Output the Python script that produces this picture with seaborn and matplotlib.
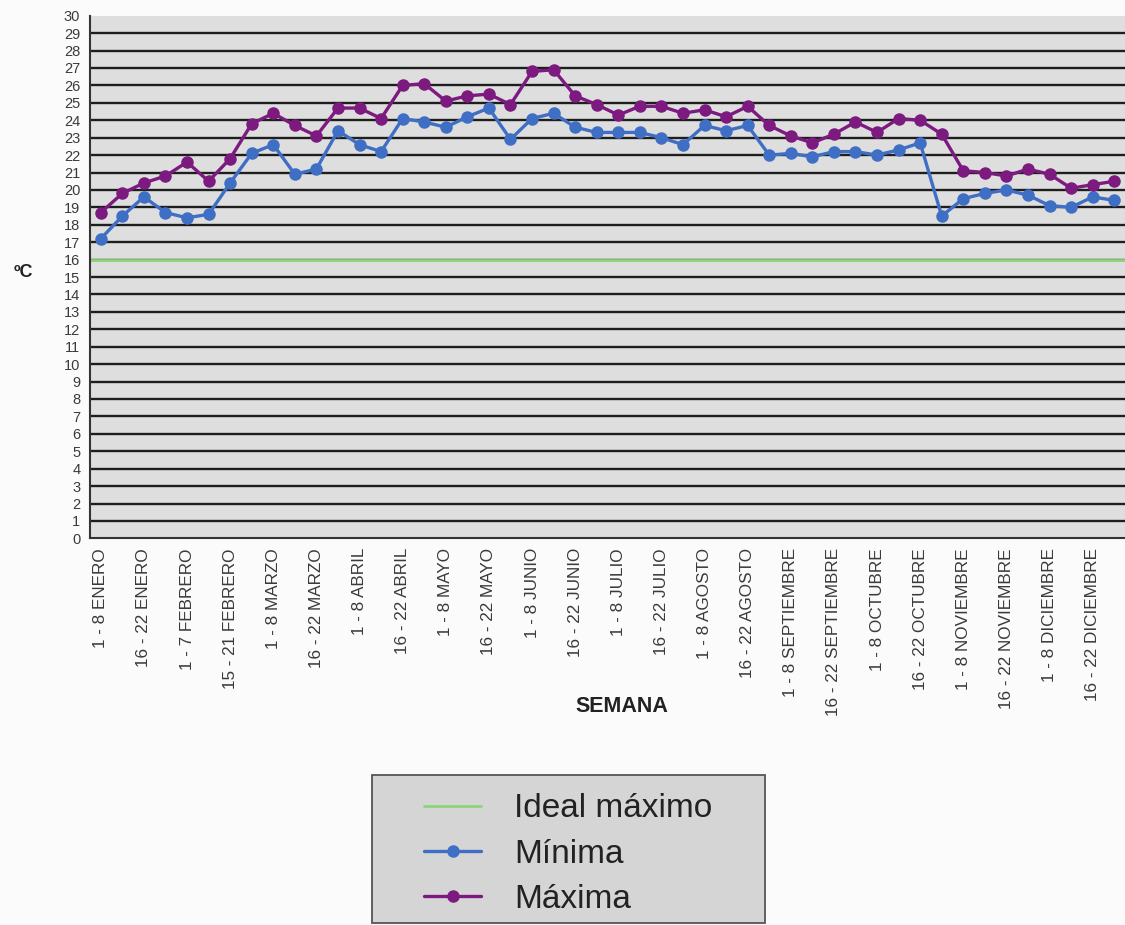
import numpy as np
import pandas as pd
import matplotlib
matplotlib.use("Agg")
import matplotlib.pyplot as plt
from matplotlib.patches import Rectangle
import seaborn as sns

# weekly labels (shown every other week)
week_labels = [
    "1 - 8 ENERO", "16 - 22 ENERO", "1 - 7 FEBRERO", "15 - 21 FEBRERO",
    "1 - 8 MARZO", "16 - 22 MARZO", "1 - 8 ABRIL", "16 - 22 ABRIL",
    "1 - 8 MAYO", "16 - 22 MAYO", "1 - 8 JUNIO", "16 - 22 JUNIO",
    "1 - 8 JULIO", "16 - 22 JULIO", "1 - 8 AGOSTO", "16 - 22 AGOSTO",
    "1 - 8 SEPTIEMBRE", "16 - 22 SEPTIEMBRE", "1 - 8 OCTUBRE", "16 - 22 OCTUBRE",
    "1 - 8 NOVIEMBRE", "16 - 22 NOVIEMBRE", "1 - 8 DICIEMBRE", "16 - 22 DICIEMBRE",
]

minima = [17.2, 18.5, 19.6, 18.7, 18.4, 18.6, 20.4, 22.1, 22.6, 20.9,
          21.2, 23.4, 22.6, 22.2, 24.1, 23.9, 23.6, 24.2, 24.7, 22.9,
          24.1, 24.4, 23.6, 23.3, 23.3, 23.3, 23.0, 22.6, 23.7, 23.4,
          23.7, 22.0, 22.1, 21.9, 22.2, 22.2, 22.0, 22.3, 22.7, 18.5,
          19.5, 19.8, 20.0, 19.7, 19.1, 19.0, 19.6, 19.4]

maxima = [18.7, 19.8, 20.4, 20.8, 21.6, 20.5, 21.8, 23.8, 24.4, 23.7,
          23.1, 24.7, 24.7, 24.1, 26.0, 26.1, 25.1, 25.4, 25.5, 24.9,
          26.8, 26.9, 25.4, 24.9, 24.3, 24.8, 24.8, 24.4, 24.6, 24.2,
          24.8, 23.7, 23.1, 22.7, 23.2, 23.9, 23.3, 24.1, 24.0, 23.2,
          21.1, 21.0, 20.8, 21.2, 20.9, 20.1, 20.3, 20.5]

ideal_max = 16

weeks = np.arange(len(minima))
df = pd.DataFrame({"semana": weeks, "Mínima": minima, "Máxima": maxima})

sns.set_style("white")
plt.rcParams["font.family"] = ["Liberation Sans", "DejaVu Sans"]

fig = plt.figure(figsize=(11.25, 9.25), dpi=100)
fig.patch.set_facecolor("#fbfbfb")
ax = fig.add_axes([0.08, 0.418, 0.92, 0.565])
ax.set_facecolor("#dedede")

for y in range(1, 30):
    ax.axhline(y, color="#1e1e1e", linewidth=1.7, zorder=1)

ax.axhline(ideal_max, color="#8fd47c", linewidth=2.0, zorder=2, label="Ideal máximo")

sns.lineplot(data=df, x="semana", y="Mínima", ax=ax, color="#3f6fc4",
             marker="o", markersize=9, markeredgewidth=0, linewidth=2.4,
             label="Mínima", zorder=3)
sns.lineplot(data=df, x="semana", y="Máxima", ax=ax, color="#7c1a80",
             marker="o", markersize=9, markeredgewidth=0, linewidth=2.4,
             label="Máxima", zorder=4)

ax.set_xlim(-0.5, len(minima) - 0.5)
ax.set_ylim(0, 30)
ax.set_yticks(range(0, 31))
ax.set_yticklabels([str(v) for v in range(0, 31)], fontsize=10.5, color="#3a3a3a")
ax.set_xticks(weeks[::2])
ax.set_xticklabels(week_labels, rotation=90, fontsize=12.3, color="#3a3a3a")
ax.set_xticks(np.arange(-0.5, len(minima), 1), minor=True)
ax.tick_params(axis="x", which="major", length=0, pad=7)
ax.tick_params(axis="x", which="minor", length=5, width=1.2, color="#333333")
ax.tick_params(axis="y", length=5, width=1.2, color="#333333", pad=2, direction="out")

for side in ["top", "right"]:
    ax.spines[side].set_visible(False)
ax.spines["left"].set_color("#333333")
ax.spines["left"].set_linewidth(1.5)
ax.spines["bottom"].set_color("#333333")
ax.spines["bottom"].set_linewidth(1.5)

ax.set_xlabel("SEMANA", fontsize=15.5, fontweight="bold", color="#222222")
ax.xaxis.set_label_coords(0.514, -0.322)
ax.xaxis.label.set_va("center")
ax.set_ylabel("ºC", fontsize=13, fontweight="bold", rotation=0, color="#222222")
ax.yaxis.set_label_coords(-0.064, 0.508)
ax.yaxis.label.set_va("center")

handles, labels = ax.get_legend_handles_labels()
ax.legend_.remove()

# legend box
fig.add_artist(Rectangle((372 / 1125, 2 / 925), 393 / 1125, 148 / 925,
                         transform=fig.transFigure, facecolor="#d5d5d5",
                         edgecolor="#555555", linewidth=1.3, zorder=0))
leg = fig.legend(handles, labels, loc="center", bbox_to_anchor=(0.5053, 0.0767),
                 fontsize=24, frameon=False, handlelength=1.7,
                 labelspacing=0.43, handletextpad=1.0, borderaxespad=0)
for t in leg.get_texts():
    t.set_color("#222222")

fig.savefig("out.png", dpi=100, facecolor=fig.get_facecolor())
